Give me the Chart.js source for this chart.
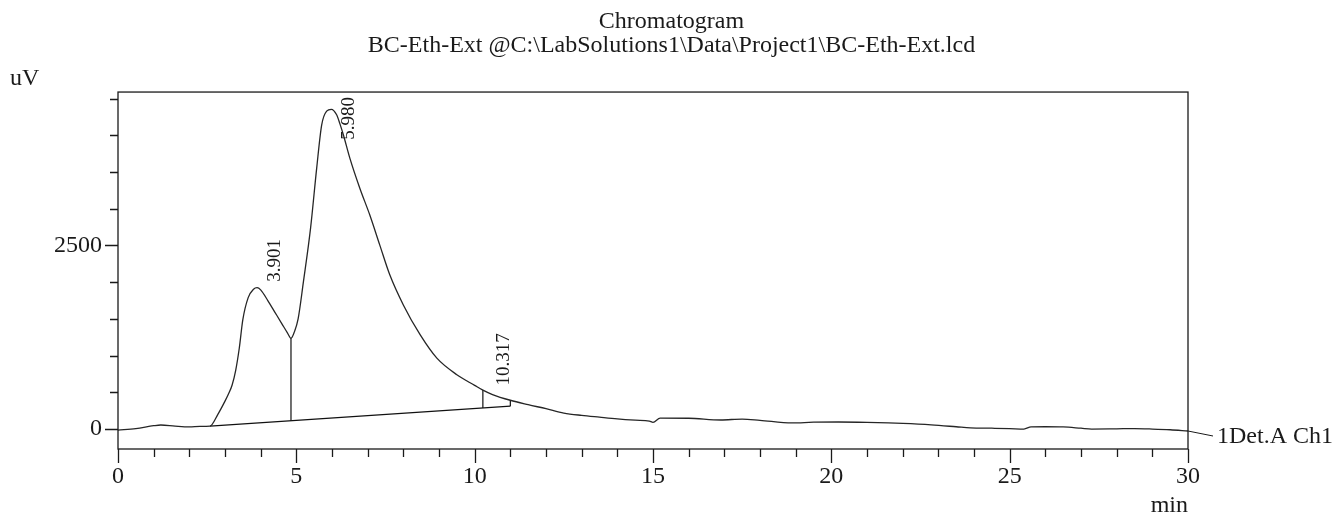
<!DOCTYPE html>
<html>
<head>
<meta charset="utf-8">
<title>Chromatogram</title>
<script src="https://cdn.jsdelivr.net/npm/chart.js@4.4.1/dist/chart.umd.min.js"></script>
<style>
  html, body { margin: 0; padding: 0; background: #fff; }
  #wrap { position: relative; width: 1332px; height: 513px; }
</style>
</head>
<body>
<div id="wrap"><canvas id="grafico"></canvas></div>
<script>
// ================== DATOS ==================

const rtMin = [0, 0.5, 1.0, 1.2, 1.6, 2.0, 2.3, 2.58, 2.8, 3.0, 3.1, 3.2, 3.3, 3.4, 3.5, 3.65, 3.8, 3.9, 4.0, 4.2,
  4.4, 4.6, 4.75, 4.85, 4.95, 5.05, 5.2, 5.4, 5.57, 5.71, 5.85, 5.98, 6.13, 6.22, 6.32, 6.5, 6.78, 7.06, 7.34, 7.62,
  8.0, 8.47, 8.94, 9.5, 10.0, 10.23, 10.5, 11.0, 11.5, 12.0, 12.5, 13.0, 13.5, 14.0, 14.5, 14.9, 15.0, 15.2, 16.0, 16.9,
  17.5, 18.0, 18.9, 19.5, 20.2, 21.0, 21.6, 22.0, 22.8, 23.5, 23.9, 24.5, 25.0, 25.4, 25.6, 26.0, 26.5, 27.0, 27.3, 28.0,
  28.5, 29.0, 29.5, 30.0];
const signal = [-15, 5, 45, 55, 40, 30, 35, 40, 200, 380, 480, 600, 800, 1100, 1490, 1790, 1905, 1925, 1895, 1750,
  1590, 1430, 1310, 1235, 1330, 1500, 2010, 2740, 3550, 4140, 4330, 4355, 4280, 4160, 4005, 3690, 3280, 2915, 2505, 2100,
  1690, 1285, 965, 740, 595, 530, 470, 392, 332, 277, 218, 186, 162, 139, 121, 108, 92, 149, 147, 123,
  136, 119, 83, 93, 96, 91, 83, 76, 56, 31, 16, 11, 6, 0, 29, 31, 28, 11, 0, 3,
  6, 0, -10, -27];

// picos integrados
const peakTimes = [3.901, 5.980, 10.317];
const peakLabels = ['3.901', '5.980', '10.317'];

// linea base de integracion y cortes verticales
const baseTimes = [2.58, 11.0];
const baseLevels = [40, 311];
const dropTimes = [4.85, 10.23, 11.0];

// marcas y etiquetas de los ejes
const xTickLabels = [0, 5, 10, 15, 20, 25, 30];
const yTicks = [0, 500, 1000, 1500, 2000, 2500, 3000, 3500, 4000, 4500];
const yTickLabels = [0, 2500];

// ================== FUNCIONES AUXILIARES ==================

// Interpolacion lineal sobre la senal
function signalAt(t) {
  for (let i = 1; i < rtMin.length; i++) {
    if (t <= rtMin[i]) {
      const f = (t - rtMin[i - 1]) / (rtMin[i] - rtMin[i - 1]);
      return signal[i - 1] + f * (signal[i] - signal[i - 1]);
    }
  }
  return signal[signal.length - 1];
}

// Nivel de la linea base en un tiempo dado
function baseAt(t) {
  const f = (t - baseTimes[0]) / (baseTimes[1] - baseTimes[0]);
  return baseLevels[0] + f * (baseLevels[1] - baseLevels[0]);
}

const FUENTE = "'Liberation Serif', 'Times New Roman', serif";
Chart.defaults.font.family = FUENTE;
Chart.defaults.color = '#1a1a1a';

const traza = rtMin.map((t, i) => ({ x: t, y: signal[i] }));

const datasets = [{
  data: traza,
  borderColor: '#262626',
  borderWidth: 1.3,
  pointRadius: 0,
  cubicInterpolationMode: 'monotone'
}, {
  data: baseTimes.map((t, i) => ({ x: t, y: baseLevels[i] })),
  borderColor: '#111',
  borderWidth: 1.2,
  pointRadius: 0
}];

dropTimes.forEach(function (t) {
  datasets.push({
    data: [{ x: t, y: baseAt(t) }, { x: t, y: signalAt(t) }],
    borderColor: '#111',
    borderWidth: 1.2,
    pointRadius: 0
  });
});

// ================== PLUGIN: marco, ticks y textos ==================
const decorado = {
  id: 'decorado',
  afterDraw(chart) {
    const ctx = chart.ctx;
    const area = chart.chartArea;
    const xs = chart.scales.x;
    const ys = chart.scales.y;

    ctx.save();
    ctx.strokeStyle = '#1a1a1a';
    ctx.lineWidth = 1.3;
    ctx.strokeRect(area.left, area.top, area.right - area.left, area.bottom - area.top);

    // ticks del eje x hacia abajo
    ctx.beginPath();
    xs.ticks.forEach(function (tk) {
      const px = Math.round(xs.getPixelForValue(tk.value)) + 0.5;
      const len = xTickLabels.includes(tk.value) ? 14 : 8;
      ctx.moveTo(px, area.bottom);
      ctx.lineTo(px, area.bottom + len);
    });
    // ticks del eje y hacia la izquierda
    ys.ticks.forEach(function (tk) {
      const py = Math.round(ys.getPixelForValue(tk.value)) + 0.5;
      const len = yTickLabels.includes(tk.value) ? 13 : 8;
      ctx.moveTo(area.left - len, py);
      ctx.lineTo(area.left, py);
    });
    ctx.stroke();

    // unidad del eje y
    ctx.fillStyle = '#1a1a1a';
    ctx.font = '24px ' + FUENTE;
    ctx.textAlign = 'left';
    ctx.textBaseline = 'alphabetic';
    ctx.fillText('uV', 10, 85);

    // nombre del detector al final de la traza
    const n = rtMin.length - 1;
    const ex = xs.getPixelForValue(rtMin[n]);
    const ey = ys.getPixelForValue(signal[n]);
    ctx.lineWidth = 1;
    ctx.beginPath();
    ctx.moveTo(ex, ey);
    ctx.lineTo(ex + 25, ey + 5);
    ctx.stroke();
    ctx.textBaseline = 'middle';
    ctx.fillText('1Det.A Ch1', ex + 29, ey + 6);

    // tiempos de retencion rotados
    ctx.font = '19px ' + FUENTE;
    ctx.textBaseline = 'alphabetic';
    peakTimes.forEach(function (t, i) {
      const px = xs.getPixelForValue(t) + 23;
      const py = ys.getPixelForValue(signalAt(t));
      const largo = ctx.measureText(peakLabels[i]).width;
      let inicio = py - 6;
      if (inicio - largo < area.top + 5) inicio = area.top + 5 + largo;
      ctx.save();
      ctx.translate(px, inicio);
      ctx.rotate(-Math.PI / 2);
      ctx.fillText(peakLabels[i], 0, 0);
      ctx.restore();
    });
    ctx.restore();
  }
};

// ================== GRAFICO ==================
new Chart(document.getElementById('grafico'), {
  type: 'line',
  data: { datasets: datasets },
  options: {
    responsive: true,
    maintainAspectRatio: false,
    animation: false,
    layout: { padding: { left: 11, right: 0, top: 0, bottom: 0 } },
    plugins: {
      legend: { display: false },
      tooltip: { enabled: false },
      title: {
        display: true,
        text: ['Chromatogram', 'BC-Eth-Ext @C:\\LabSolutions1\\Data\\Project1\\BC-Eth-Ext.lcd'],
        color: '#1a1a1a',
        font: { family: FUENTE, size: 24, weight: 'normal', lineHeight: 0.98 },
        padding: { top: 10, bottom: 35 }
      }
    },
    scales: {
      x: {
        type: 'linear',
        min: 0,
        max: 30,
        grid: { display: false, drawTicks: false },
        border: { display: false },
        ticks: {
          stepSize: 1,
          padding: 13,
          maxRotation: 0,
          autoSkip: false,
          font: { size: 24 },
          callback: v => xTickLabels.includes(v) ? String(v) : ''
        },
        title: {
          display: true,
          text: 'min',
          align: 'end',
          font: { size: 24, lineHeight: 0.6 },
          padding: { top: 0, bottom: 0 }
        },
        afterFit: s => { s.height = 64; }
      },
      y: {
        min: -272,
        max: 4590,
        grid: { display: false, drawTicks: false },
        border: { display: false },
        ticks: {
          padding: 16,
          autoSkip: false,
          font: { size: 24 },
          callback: v => yTickLabels.includes(v) ? String(v) : ''
        },
        afterBuildTicks: s => { s.ticks = yTicks.map(v => ({ value: v })); },
        afterFit: s => { s.width = 107; }
      },
      // eje vacio a la derecha: deja sitio para el nombre del detector
      yDer: {
        type: 'linear',
        position: 'right',
        min: -272,
        max: 4590,
        grid: { display: false, drawTicks: false },
        border: { display: false },
        ticks: { display: false },
        afterFit: s => { s.width = 144; }
      }
    }
  },
  plugins: [decorado]
});
</script>
</body>
</html>
